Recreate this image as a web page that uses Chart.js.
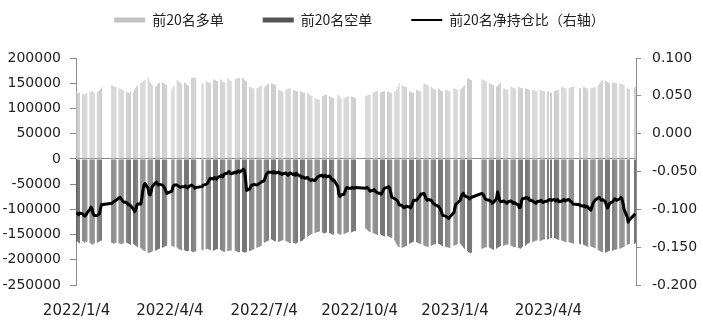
<!DOCTYPE html>
<html><head><meta charset="utf-8">
<script src="https://cdn.jsdelivr.net/npm/chart.js@4/dist/chart.umd.min.js"></script>
<style>html,body{margin:0;padding:0;background:#fff;}canvas{display:block;}</style>
</head><body>
<canvas id="c" width="703" height="325"></canvas>
<script>
// ---- categories (trading days) ----
const startDate = '2022/1/4';
const endDate = '2023/6/27';
const holidays = ['2022/1/3','2022/1/31','2022/2/1','2022/2/2','2022/2/3','2022/2/4','2022/4/4','2022/4/5',
  '2022/5/2','2022/5/3','2022/5/4','2022/6/3','2022/9/12','2022/10/3','2022/10/4','2022/10/5','2022/10/6','2022/10/7',
  '2023/1/2','2023/1/23','2023/1/24','2023/1/25','2023/1/26','2023/1/27','2023/4/5','2023/5/1','2023/5/2','2023/5/3',
  '2023/6/22','2023/6/23'];
const tickLabels = ['2022/1/4','2022/4/4','2022/7/4','2022/10/4','2023/1/4','2023/4/4'];
const leftTicks = [-250000,-200000,-150000,-100000,-50000,0,50000,100000,150000,200000];
const rightTicks = [-0.2,-0.15,-0.1,-0.05,0,0.05,0.1];
const seriesNames = ['前20名多单','前20名空单','前20名净持仓比（右轴）'];

// ---- series values, one per trading day ----
const longPos = [
133000,131000,130000,132000,
129000,128000,127000,129000,130000,
134000,133000,135000,132000,131000,
132000,134000,136000,139000,142000,
146000,145000,144000,143000,143000,
141000,139000,138000,137000,136000,
134000,132000,131000,130000,134000,
132000,136000,140000,144000,146000,
150000,152000,154000,156000,157000,
162000,158000,152000,148000,146000,
142000,145000,148000,150000,152000,
152000,151000,149000,147000,146000,
138000,142000,146000,
156000,154000,152000,151000,150000,
152000,150000,148000,146000,145000,
160000,161000,162000,161000,160000,
149000,150000,
154000,153000,152000,151000,151000,
158000,157000,156000,155000,154000,
158000,156000,154000,152000,151000,
161000,158000,156000,154000,
158000,159000,160000,161000,160000,
161000,159000,157000,155000,154000,
143000,142000,141000,140000,140000,
140000,141000,142000,144000,146000,
142000,144000,146000,148000,149000,
150000,149000,148000,147000,146000,
137000,136000,135000,134000,133000,
137000,138000,139000,140000,140000,
137000,136000,135000,134000,134000,
134000,133000,132000,131000,131000,
131000,129000,127000,125000,124000,
120000,119000,118000,117000,117000,
124000,125000,126000,127000,127000,
124000,123000,122000,121000,120000,
127000,125000,122000,120000,
120000,121000,122000,123000,124000,
124000,123000,122000,121000,120000,
124000,125000,126000,127000,127000,
131000,132000,133000,134000,134000,
131000,132000,133000,134000,134000,
134000,133000,132000,131000,131000,
134000,135000,138000,144000,150000,
146000,145000,144000,143000,143000,
134000,133000,132000,131000,131000,
137000,136000,135000,134000,134000,
150000,149000,148000,147000,146000,
143000,141000,139000,138000,137000,
140000,138000,136000,135000,134000,
137000,136000,135000,134000,134000,
140000,139000,138000,137000,
137000,139000,141000,144000,146000,
160000,159000,158000,157000,156000,
158000,157000,156000,155000,154000,
150000,149000,148000,147000,146000,
143000,145000,147000,149000,150000,
140000,139000,138000,137000,137000,
143000,142000,141000,140000,140000,
143000,142000,141000,140000,140000,
140000,139000,138000,137000,137000,
137000,136000,135000,134000,134000,
137000,136000,135000,134000,134000,
134000,133000,132000,131000,
134000,135000,136000,137000,137000,
143000,142000,141000,140000,140000,
140000,141000,142000,143000,143000,
140000,141000,
142000,142000,141000,140000,140000,
140000,141000,141000,142000,142000,
146000,149000,152000,155000,156000,
156000,154000,152000,151000,150000,
152000,151000,151000,150000,150000,
150000,149000,148000,147000,146000,
141000,139000,138000,
141000,143000];

const shortPos = [
-165000,-164000,-166000,-167000,
-163000,-165000,-166000,-164000,-165000,
-166000,-168000,-170000,-169000,-167000,
-166000,-165000,-164000,-163000,-162000,
-166000,-167000,-168000,-167000,-166000,
-167000,-168000,-169000,-168000,-167000,
-166000,-167000,-168000,-169000,-170000,
-168000,-170000,-172000,-173000,-175000,
-176000,-178000,-180000,-182000,-183000,
-186000,-187000,-185000,-184000,-183000,
-182000,-181000,-180000,-179000,-178000,
-176000,-175000,-174000,-173000,-172000,
-172000,-173000,-174000,
-176000,-178000,-179000,-180000,-181000,
-181000,-182000,-183000,-183000,-182000,
-183000,-184000,-185000,-184000,-183000,
-180000,-181000,
-179000,-178000,-179000,-180000,-181000,
-182000,-181000,-180000,-179000,-179000,
-180000,-182000,-183000,-184000,-184000,
-183000,-182000,-181000,-182000,
-182000,-183000,-184000,-185000,-185000,
-184000,-185000,-186000,-185000,-184000,
-183000,-182000,-181000,-180000,-179000,
-176000,-175000,-174000,-173000,-172000,
-166000,-165000,-164000,-163000,-162000,
-160000,-161000,-162000,-163000,-164000,
-165000,-164000,-163000,-162000,-161000,
-163000,-164000,-165000,-166000,-167000,
-166000,-167000,-168000,-167000,-166000,
-164000,-163000,-162000,-160000,-158000,
-155000,-153000,-151000,-150000,-149000,
-147000,-146000,-145000,-145000,-144000,
-146000,-147000,-148000,-147000,-146000,
-147000,-148000,-149000,-150000,-150000,
-148000,-149000,-150000,-150000,
-149000,-148000,-147000,-146000,-145000,
-146000,-145000,-144000,-143000,-143000,
-138000,-140000,-142000,-144000,-145000,
-147000,-148000,-149000,-150000,-151000,
-150000,-151000,-152000,-153000,-154000,
-153000,-154000,-155000,-156000,-157000,
-162000,-166000,-170000,-173000,-175000,
-176000,-175000,-174000,-173000,-172000,
-168000,-167000,-166000,-165000,-164000,
-165000,-166000,-167000,-168000,-168000,
-171000,-172000,-173000,-174000,-174000,
-172000,-171000,-170000,-169000,-169000,
-168000,-169000,-170000,-172000,-173000,
-174000,-175000,-175000,-176000,-176000,
-172000,-171000,-170000,-169000,
-168000,-170000,-173000,-176000,-178000,
-183000,-185000,-186000,-187000,-186000,
-178000,-177000,-176000,-175000,-175000,
-176000,-177000,-178000,-179000,-180000,
-178000,-176000,-175000,-174000,-173000,
-172000,-171000,-170000,-170000,-169000,
-172000,-173000,-174000,-175000,-175000,
-176000,-177000,-178000,-176000,-174000,
-172000,-170000,-168000,-167000,-166000,
-165000,-164000,-163000,-162000,-162000,
-163000,-162000,-161000,-160000,-160000,
-160000,-159000,-158000,-157000,
-157000,-158000,-159000,-160000,-161000,
-162000,-163000,-164000,-165000,-165000,
-165000,-166000,-166000,-167000,-168000,
-168000,-169000,
-170000,-171000,-172000,-173000,-174000,
-173000,-174000,-175000,-176000,-177000,
-180000,-182000,-183000,-184000,-185000,
-186000,-185000,-184000,-183000,-182000,
-182000,-181000,-180000,-180000,-179000,
-178000,-177000,-176000,-175000,-174000,
-170000,-169000,-168000,
-168000,-167000];

const netRatio = [
-0.104,-0.106,-0.107,-0.105,
-0.106,-0.108,-0.109,-0.108,-0.105,
-0.100,-0.097,-0.099,-0.106,-0.108,
-0.108,-0.107,-0.106,-0.100,-0.094,
-0.092,-0.091,-0.090,-0.089,-0.088,
-0.085,-0.084,-0.086,-0.088,-0.090,
-0.091,-0.092,-0.094,-0.094,-0.095,
-0.100,-0.103,-0.101,-0.095,-0.093,
-0.093,-0.085,-0.075,-0.068,-0.066,
-0.072,-0.080,-0.081,-0.076,-0.070,
-0.065,-0.064,-0.066,-0.068,-0.067,
-0.068,-0.070,-0.072,-0.075,-0.079,
-0.076,-0.070,-0.068,
-0.068,-0.069,-0.070,-0.071,-0.070,
-0.070,-0.069,-0.071,-0.072,-0.070,
-0.068,-0.069,-0.070,-0.072,-0.071,
-0.070,-0.068,
-0.067,-0.066,-0.064,-0.061,-0.059,
-0.060,-0.058,-0.059,-0.060,-0.058,
-0.056,-0.055,-0.057,-0.054,-0.053,
-0.052,-0.050,-0.052,-0.053,
-0.051,-0.052,-0.050,-0.049,-0.051,
-0.048,-0.047,-0.049,-0.060,-0.075,
-0.073,-0.070,-0.068,-0.068,-0.067,
-0.068,-0.067,-0.066,-0.065,-0.064,
-0.062,-0.058,-0.054,-0.052,-0.051,
-0.051,-0.052,-0.050,-0.051,-0.052,
-0.051,-0.053,-0.052,-0.054,-0.053,
-0.052,-0.054,-0.055,-0.053,-0.052,
-0.054,-0.053,-0.055,-0.052,-0.054,
-0.056,-0.058,-0.057,-0.058,-0.059,
-0.058,-0.060,-0.061,-0.062,-0.061,
-0.062,-0.060,-0.058,-0.057,-0.056,
-0.055,-0.057,-0.056,-0.055,-0.057,
-0.056,-0.058,-0.060,-0.062,-0.061,
-0.070,-0.080,-0.083,-0.081,
-0.080,-0.076,-0.072,-0.071,-0.072,
-0.072,-0.071,-0.072,-0.072,-0.071,
-0.072,-0.071,-0.072,-0.074,-0.076,
-0.075,-0.074,-0.076,-0.077,-0.078,
-0.079,-0.080,-0.077,-0.074,-0.072,
-0.071,-0.070,-0.072,-0.078,-0.084,
-0.086,-0.087,-0.088,-0.090,-0.094,
-0.095,-0.097,-0.098,-0.097,-0.096,
-0.097,-0.098,-0.096,-0.092,-0.088,
-0.088,-0.086,-0.084,-0.083,-0.080,
-0.079,-0.082,-0.086,-0.088,-0.087,
-0.088,-0.090,-0.092,-0.093,-0.094,
-0.096,-0.098,-0.100,-0.104,-0.108,
-0.109,-0.110,-0.111,-0.112,-0.110,
-0.104,-0.097,-0.093,-0.092,
-0.088,-0.083,-0.080,-0.079,-0.082,
-0.084,-0.085,-0.086,-0.085,-0.084,
-0.079,-0.080,-0.083,-0.086,-0.087,
-0.088,-0.089,-0.090,-0.092,-0.091,
-0.086,-0.077,-0.082,-0.088,-0.090,
-0.089,-0.090,-0.091,-0.092,-0.090,
-0.089,-0.090,-0.092,-0.091,-0.092,
-0.094,-0.098,-0.097,-0.090,-0.086,
-0.085,-0.084,-0.086,-0.085,-0.088,
-0.089,-0.090,-0.091,-0.092,-0.090,
-0.089,-0.088,-0.090,-0.091,-0.090,
-0.089,-0.088,-0.087,-0.088,
-0.087,-0.089,-0.088,-0.087,-0.090,
-0.089,-0.088,-0.087,-0.089,-0.088,
-0.087,-0.089,-0.090,-0.091,-0.093,
-0.094,-0.095,
-0.096,-0.095,-0.097,-0.096,-0.097,
-0.101,-0.097,-0.092,-0.090,-0.088,
-0.085,-0.084,-0.086,-0.088,-0.087,
-0.090,-0.095,-0.098,-0.096,-0.092,
-0.090,-0.088,-0.086,-0.087,-0.088,
-0.086,-0.084,-0.086,-0.092,-0.100,
-0.110,-0.117,-0.114,
-0.107,-0.106];

// ---- build trading-day positions (calendar days since start) ----
const DAY = 86400000;
function parseD(s){ const p = s.split('/').map(Number); return Date.UTC(p[0], p[1]-1, p[2]); }
const t0 = parseD(startDate), t1 = parseD(endDate);
const holSet = new Set(holidays);
const tradeDays = [];
for (let t = t0; t <= t1; t += DAY) {
  const dt = new Date(t), wd = dt.getUTCDay();
  if (wd === 0 || wd === 6) continue;
  const key = dt.getUTCFullYear() + '/' + (dt.getUTCMonth()+1) + '/' + dt.getUTCDate();
  if (holSet.has(key)) continue;
  tradeDays.push((t - t0) / DAY);
}
const tickDays = tickLabels.map(s => (parseD(s) - t0) / DAY);
const lastDay = (t1 - t0) / DAY;
const n = Math.min(tradeDays.length, longPos.length, shortPos.length, netRatio.length);
const pts = arr => arr.slice(0, n).map((v, i) => ({x: tradeDays[i], y: v}));

const AXIS = '#8c8c8c', TXT = '#222';
const tickFont = {family: 'DejaVu Sans', size: 14};

const legendFrame = {
  id: 'legendFrame',
  afterInit(chart) {
    const lg = chart.legend;
    const fit = lg.fit;
    lg.fit = function(){ fit.call(this); this.height = 58; };
    const draw = lg.draw;
    lg.draw = function(){
      const t = this.top, l = this.left, r = this.right;
      this.top = t - 26; this.left = l + 8; this.right = r + 8;
      draw.call(this);
      this.top = t; this.left = l; this.right = r;
    };
  }
};

new Chart(document.getElementById('c'), {
  data: {
    datasets: [
      {type: 'bar', label: seriesNames[0], data: pts(longPos), yAxisID: 'y', xAxisID: 'x',
       backgroundColor: '#c2c2c2', barThickness: 0.8, inflateAmount: 0, grouped: false, order: 2},
      {type: 'bar', label: seriesNames[1], data: pts(shortPos), yAxisID: 'y', xAxisID: 'x',
       backgroundColor: '#555555', barThickness: 0.8, inflateAmount: 0, grouped: false, order: 2},
      {type: 'line', label: seriesNames[2], data: pts(netRatio), yAxisID: 'y1', xAxisID: 'x',
       borderColor: '#000', backgroundColor: '#000', borderWidth: 3, pointRadius: 0, tension: 0,
       borderJoinStyle: 'round', order: 0}
    ]
  },
  options: {
    responsive: false, animation: false, devicePixelRatio: 1,
    layout: {padding: 0},
    plugins: {
      tooltip: {enabled: false},
      legend: {
        position: 'top', align: 'center',
        labels: {
          usePointStyle: true, pointStyleWidth: 31, padding: 39, color: TXT,
          font: {family: 'Noto Sans CJK SC', size: 14},
          generateLabels(chart) {
            return chart.data.datasets.map((ds, i) => ({
              text: ds.label, datasetIndex: i, hidden: false, pointStyle: 'line',
              fillStyle: ds.type === 'line' ? ds.borderColor : ds.backgroundColor,
              strokeStyle: ds.type === 'line' ? ds.borderColor : ds.backgroundColor,
              lineWidth: ds.type === 'line' ? 2 : 5, fontColor: TXT
            }));
          }
        }
      }
    },
    scales: {
      x: {
        type: 'linear', min: -0.5, max: lastDay + 0.5, offset: false,
        grid: {display: false, drawTicks: false}, border: {display: false},
        afterBuildTicks(s){ s.ticks = tickDays.map(v => ({value: v})); },
        ticks: {autoSkip: false, maxRotation: 0, padding: 17, color: TXT,
                font: {family: 'DejaVu Sans', size: 15},
                callback: (v, i) => tickLabels[i]},
        afterFit(s){ s.height = 40; }
      },
      y: {
        position: 'left', min: -250000, max: 200000,
        afterBuildTicks(s){ s.ticks = leftTicks.map(v => ({value: v})); },
        ticks: {callback: v => String(v), font: tickFont, color: TXT, padding: 9},
        grid: {drawOnChartArea: true, tickLength: 6, tickColor: AXIS, lineWidth: 1,
               color: c => (c.tick && c.tick.value === 0) ? AXIS : 'rgba(0,0,0,0)'},
        border: {display: true, color: AXIS},
        afterFit(s){ s.width = 76; }
      },
      y1: {
        position: 'right', min: -0.2, max: 0.1,
        afterBuildTicks(s){ s.ticks = rightTicks.map(v => ({value: v})); },
        ticks: {callback: v => Number(v).toFixed(3), font: tickFont, color: TXT, padding: 11},
        grid: {drawOnChartArea: false, tickLength: 5, tickColor: AXIS},
        border: {display: true, color: AXIS},
        afterFit(s){ s.width = 67; }
      }
    }
  },
  plugins: [legendFrame]
});
</script>
</body></html>
